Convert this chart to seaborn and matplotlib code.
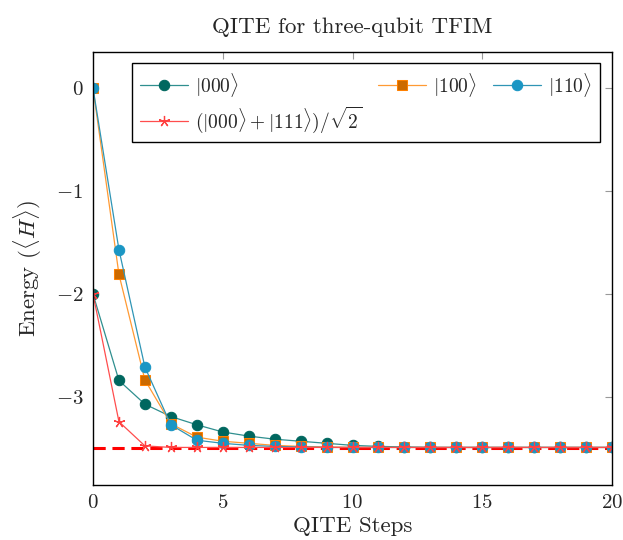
import matplotlib
matplotlib.use("Agg")
import matplotlib.pyplot as plt
import seaborn as sns
import pandas as pd
import numpy as np

steps = list(range(21))
e_000 = [-2.0, -2.84, -3.07, -3.19, -3.27, -3.34, -3.38, -3.41, -3.43, -3.45, -3.47,
         -3.48, -3.485, -3.49, -3.49, -3.49, -3.49, -3.49, -3.49, -3.49, -3.49]
e_100 = [0.0, -1.81, -2.835, -3.26, -3.39, -3.43, -3.45, -3.47, -3.48, -3.485, -3.49,
         -3.49, -3.49, -3.49, -3.49, -3.49, -3.49, -3.49, -3.49, -3.49, -3.49]
e_110 = [0.0, -1.57, -2.71, -3.27, -3.42, -3.45, -3.47, -3.48, -3.485, -3.49, -3.49,
         -3.49, -3.49, -3.49, -3.49, -3.49, -3.49, -3.49, -3.49, -3.49, -3.49]
e_ghz = [-2.0, -3.24, -3.475, -3.49, -3.49, -3.49, -3.49, -3.49, -3.49, -3.49, -3.49,
         -3.49, -3.49, -3.49, -3.49, -3.49, -3.49, -3.49, -3.49, -3.49, -3.49]
ground = -3.494

labels = [r"$|000\rangle$", r"$|100\rangle$", r"$|110\rangle$",
          r"$(|000\rangle + |111\rangle)/\sqrt{2}$"]

sns.set_theme(style="white")
plt.rcParams["font.family"] = ["cmr10", "DejaVu Serif"]
plt.rcParams["mathtext.fontset"] = "cm"
plt.rcParams["axes.formatter.use_mathtext"] = True

fig = plt.figure(figsize=(6.23, 5.40), dpi=100)
ax = fig.add_axes([93/623, 1-484.5/540, (612-93)/623, (484.5-52)/540])

df = pd.DataFrame({"step": steps, "e000": e_000, "e100": e_100, "e110": e_110, "eghz": e_ghz})

ax.axhline(ground, color="#ff0000", lw=2.2, ls=(0, (4, 2.2)), zorder=1.5)

styles = [
    ("e000", dict(color="#2f8f8f", marker="o", markersize=7.5, markerfacecolor="#00675f", markeredgecolor="#00675f")),
    ("e100", dict(color="#ff9a33", marker="s", markersize=7, markerfacecolor="#cc6a00", markeredgecolor="#ff8000")),
    ("e110", dict(color="#2f95b5", marker="o", markersize=7.5, markerfacecolor="#1a96c4", markeredgecolor="#1a96c4")),
    ("eghz", dict(color="#ff4d4d", marker=(5, 2, 0), markersize=8, markerfacecolor="none", markeredgecolor="#ff4040", markeredgewidth=0.9)),
]
for (col, st), lab in zip(styles, labels):
    sns.lineplot(data=df, x="step", y=col, ax=ax, lw=0.9, label=lab, zorder=2, **st)

ax.set_xlim(0, 20)
ax.set_ylim(-3.85, 0.35)
ax.set_xticks([0, 5, 10, 15, 20])
ax.set_yticks([0, -1, -2, -3])
ax.tick_params(direction="in", length=5, width=0.8, color="#999999",
               top=True, right=True, labelsize=15, pad=7)
for sp in ax.spines.values():
    sp.set_color("black")
    sp.set_linewidth(1.0)

ax.set_xlabel("QITE Steps", fontsize=16.5, labelpad=3)
ax.set_ylabel(r"Energy ($\langle H\rangle$)", fontsize=16.5, labelpad=8)
ax.set_title("QITE for three-qubit TFIM", fontsize=16.5, pad=14)

h, l = ax.get_legend_handles_labels()
order = [0, 3, 1, 2]
leg = ax.legend([h[i] for i in order], [l[i] for i in order], ncol=3,
                loc="upper left", bbox_to_anchor=(0.075, 0.975),
                fontsize=14, frameon=True, fancybox=False, framealpha=1,
                edgecolor="black", handlelength=2.5, numpoints=1,
                columnspacing=0.8, handletextpad=0.35, borderpad=0.4, labelspacing=0.3,
                borderaxespad=0)
leg.get_frame().set_linewidth(1.0)

fig.savefig("out.png", dpi=100)
